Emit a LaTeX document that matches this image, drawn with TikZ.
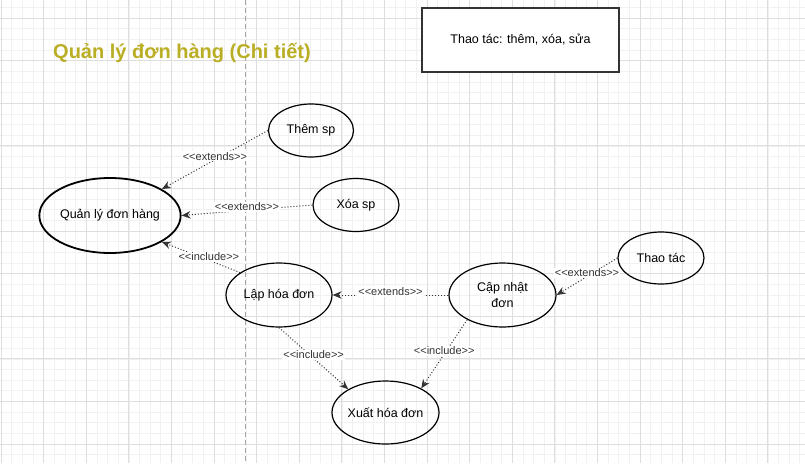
\documentclass[tikz,border=0pt]{standalone}
\usepackage{fontspec}
\setmainfont{Liberation Sans}
\usetikzlibrary{arrows.meta, shapes.geometric}
\definecolor{titleolive}{RGB}{186,174,36}
\definecolor{gridmajor}{RGB}{222,222,222}
\definecolor{gridminor}{RGB}{241,241,241}
\tikzset{>={Stealth[length=9pt,width=7.5pt]}}

\begin{document}
\begin{tikzpicture}[x=1pt, y=-1pt,
  usecase/.style={draw, ellipse, line width=1.2pt, inner sep=0pt, align=center,
    font=\fontsize{12.5}{16.5}\selectfont},
  dep/.style={->, dash pattern=on 1pt off 2pt, line width=1pt, black!80},
  stereo/.style={fill=white, inner sep=1pt, yshift=3.5pt, font=\fontsize{11}{13}\selectfont}]
\useasboundingbox (0,0) rectangle (805,463);
\fill[white] (0,0) rectangle (805,463);
% grid
\foreach \k in {0,...,75} \draw[gridminor, line width=0.6pt] ({1+10.65*\k},0) -- ({1+10.65*\k},463);
\foreach \k in {0,...,43} \draw[gridminor, line width=0.6pt] (0,{7.35+10.65*\k}) -- (805,{7.35+10.65*\k});
\foreach \k in {0,...,18} \draw[gridmajor, line width=0.8pt] ({1+42.6*\k},0) -- ({1+42.6*\k},463);
\foreach \k in {0,...,10} \draw[gridmajor, line width=0.8pt] (0,{18+42.6*\k}) -- (805,{18+42.6*\k});
\draw[black!35, line width=1pt, dash pattern=on 5pt off 3pt] (245,0) -- (245,463);

\node[anchor=base west, inner sep=0pt, text=titleolive, font=\fontsize{20}{24}\selectfont\bfseries]
  (title) at (53,58) {Quản lý đơn hàng (Chi tiết)};
\node[draw=black!80, line width=1.2pt, fill=white, minimum width=197pt, minimum height=64pt,
  font=\fontsize{12.5}{15}\selectfont] (note) at (520.5,40) {Thao tác: thêm, xóa, sửa};

% use cases
\node[usecase, line width=1.8pt, minimum width=140pt, minimum height=75pt] (quanly) at (110,215.5) {Quản lý đơn hàng};
\node[usecase, minimum width=85pt, minimum height=53pt] (them) at (311,130.5) {Thêm sp};
\node[usecase, minimum width=86pt, minimum height=53pt] (xoa) at (356,205) {Xóa sp};
\node[usecase, minimum width=106pt, minimum height=64pt] (lap) at (279,295) {Lập hóa đơn};
\node[usecase, minimum width=107pt, minimum height=64pt] (capnhat) at (502.5,295) {Cập nhật\\đơn};
\node[usecase, minimum width=107pt, minimum height=63pt] (xuat) at (385.5,412.5) {Xuất hóa đơn};
\node[usecase, minimum width=86pt, minimum height=52pt] (thaotac) at (661,258) {Thao tác};

% relations
\draw[dep] (them.west) -- node[stereo] {<{}<extends>{}>} (quanly.27);
\draw[dep] (xoa.west) -- node[stereo] {<{}<extends>{}>} (quanly.east);
\draw[dep] (lap.150) -- node[stereo, pos=0.4] {<{}<include>{}>} (quanly.-27);
\draw[dep] (capnhat.west) -- node[stereo] {<{}<extends>{}>} (lap.east);
\draw[dep] (thaotac.west) -- node[stereo] {<{}<extends>{}>} (capnhat.east);
\draw[dep] (lap.south) -- node[stereo] {<{}<include>{}>} (xuat.148);
\draw[dep] (capnhat.215) -- node[stereo] {<{}<include>{}>} (xuat.34);
\end{tikzpicture}
\end{document}
